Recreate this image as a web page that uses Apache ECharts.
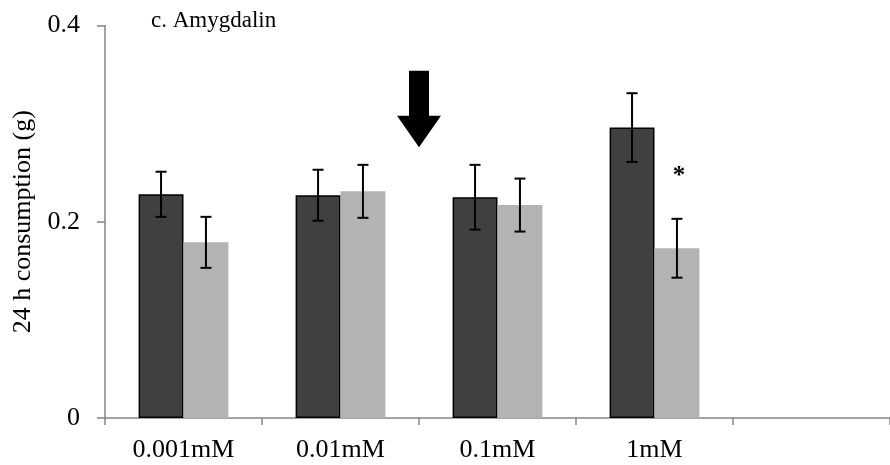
<!DOCTYPE html>
<html>
<head>
<meta charset="utf-8">
<script src="https://cdn.jsdelivr.net/npm/echarts@6/dist/echarts.min.js"></script>
<style>
    html, body { margin: 0; padding: 0; background: #fff; }
    #chartAmyg { width: 890px; height: 465px; }
</style>
</head>
<body>
<div id="chartAmyg"></div>
<script>
//----資料-------
var categories = ['0.001mM', '0.01mM', '0.1mM', '1mM', ''];
var valueDark = [0.228, 0.227, 0.225, 0.296];
var errDark = [0.023, 0.026, 0.033, 0.035];
var valueLight = [0.179, 0.231, 0.217, 0.173];
var errLight = [0.026, 0.027, 0.027, 0.030];
var sigLight = ['', '', '', '*'];
var yTicks = [0, 0.2, 0.4];

var gapRatio = 0.428;   // barCategoryGap

function renderAmyg() {
    var dom = document.getElementById('chartAmyg');
    var myChart = echarts.init(dom);

    // error bar: side -1 = dark (left), +1 = light (right)
    function makeErr(values, errs, side, sig) {
        return {
            type: 'custom',
            z: 10,
            data: values.map(function(v, i) { return [i, v, errs[i]]; }),
            renderItem: function(params, api) {
                var idx = api.value(0);
                var v = api.value(1);
                var e = api.value(2);
                var bandW = api.size([1, 0])[0];
                var barW = bandW * (1 - gapRatio) / 2;
                var cx = api.coord([idx, v])[0] + side * barW / 2;
                var top = api.coord([idx, v + e])[1];
                var bot = api.coord([idx, v - e])[1];
                var hw = 5.5;
                var st = { stroke: '#000', lineWidth: 2 };
                var kids = [
                    { type: 'line', shape: { x1: cx, y1: top, x2: cx, y2: bot }, style: st },
                    { type: 'line', shape: { x1: cx - hw, y1: top, x2: cx + hw, y2: top }, style: st },
                    { type: 'line', shape: { x1: cx - hw, y1: bot, x2: cx + hw, y2: bot }, style: st }
                ];
                var mark = sig ? sig[params.dataIndex] : '';
                if (mark) {
                    kids.push({
                        type: 'text',
                        style: {
                            text: mark, x: cx + 2, y: top - 55,
                            fill: '#000', font: 'bold 25px "Liberation Serif"',
                            align: 'center', verticalAlign: 'top'
                        }
                    });
                }
                return { type: 'group', children: kids };
            }
        };
    }

    var option = {
        backgroundColor: '#fff',
        animation: false,
        grid: {
            left: 105,
            right: 0,
            top: 25.5,
            bottom: 47
        },
        xAxis: {
            type: 'category',
            data: categories,
            boundaryGap: true,
            axisLine: { lineStyle: { color: '#868686', width: 1.5 } },
            axisTick: { show: true, length: 7, lineStyle: { color: '#868686', width: 1.5 } },
            axisLabel: {
                color: '#000',
                fontFamily: 'Liberation Serif',
                fontSize: 26,
                margin: 19
            }
        },
        yAxis: {
            type: 'value',
            min: 0,
            max: 0.4,
            interval: 0.2,
            name: '24 h consumption (g)',
            nameLocation: 'middle',
            nameGap: 62,
            nameTextStyle: {
                color: '#000',
                fontFamily: 'Liberation Serif',
                fontSize: 26
            },
            splitLine: { show: false },
            axisLine: { show: true, lineStyle: { color: '#868686', width: 1.5 } },
            axisTick: { show: true, length: 8, lineStyle: { color: '#868686', width: 1.5 } },
            axisLabel: {
                color: '#000',
                fontFamily: 'Liberation Serif',
                fontSize: 26,
                margin: 25,
                formatter: function(v) { return yTicks.indexOf(v) >= 0 ? String(v) : ''; }
            }
        },
        series: [{
                name: 'dark',
                type: 'bar',
                barGap: 0,
                barCategoryGap: (gapRatio * 100) + '%',
                itemStyle: { color: '#404040', borderColor: '#000', borderWidth: 1.5 },
                data: valueDark
            },
            {
                name: 'light',
                type: 'bar',
                itemStyle: { color: '#b3b3b3' },
                data: valueLight
            },
            makeErr(valueDark, errDark, -1, null),
            makeErr(valueLight, errLight, 1, sigLight)
        ]
    };
    myChart.setOption(option);

    // 箭頭: between 0.01mM and 0.1mM
    var p1 = myChart.convertToPixel({ gridIndex: 0 }, [1, 0.354]);
    var p2 = myChart.convertToPixel({ gridIndex: 0 }, [2, 0.276]);
    var ax = (p1[0] + p2[0]) / 2;
    var yTop = p1[1];
    var yTip = p2[1];
    var yNeck = yTop + (yTip - yTop) * 0.59;
    myChart.setOption({
        graphic: [{
            type: 'text',
            left: 151,
            top: 9,
            style: { text: 'c. Amygdalin', fill: '#000', font: '23px "Liberation Serif"' }
        }, {
            type: 'polygon',
            shape: {
                points: [
                    [ax - 10, yTop], [ax + 10, yTop], [ax + 10, yNeck], [ax + 22, yNeck],
                    [ax, yTip], [ax - 22, yNeck], [ax - 10, yNeck]
                ]
            },
            style: { fill: '#000' }
        }]
    });

    window.addEventListener('resize', function() {
        myChart.resize();
    });
}

renderAmyg();
</script>
</body>
</html>
